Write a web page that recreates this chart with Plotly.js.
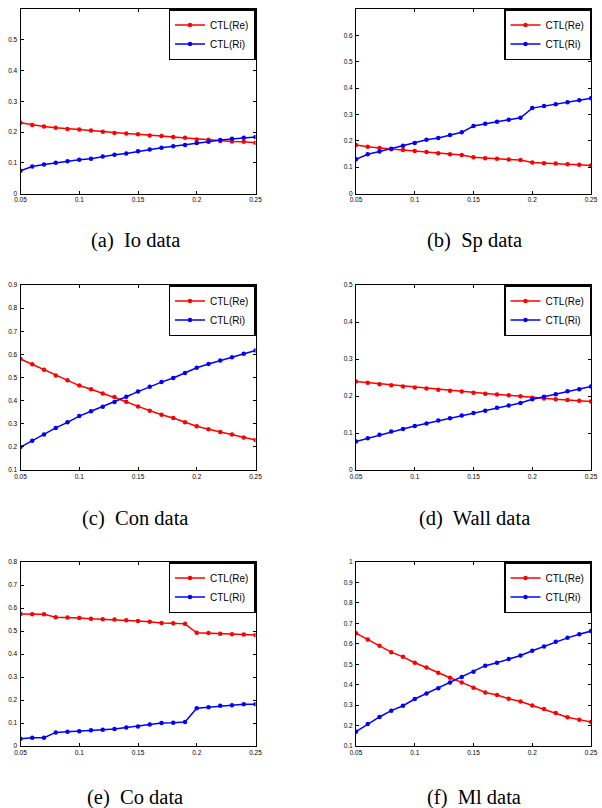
<!DOCTYPE html>
<html>
<head>
<meta charset="utf-8">
<script src="https://cdn.plot.ly/plotly-3.0.1.min.js"></script>
<style>html,body{margin:0;padding:0;background:#fff;}#chart{width:602px;height:808px;}</style>
</head>
<body>
<div id="chart"></div>
<script>
const xVals = [0.05,0.06,0.07,0.08,0.09,0.10,0.11,0.12,0.13,0.14,0.15,0.16,0.17,0.18,0.19,0.20,0.21,0.22,0.23,0.24,0.25];
const xTicks = [0.05,0.1,0.15,0.2,0.25];
const xTickText = ['0.05','0.1','0.15','0.2','0.25'];
const seriesNames = ['CTL(Re)','CTL(Ri)'];
const captions = ['(a)  Io data','(b)  Sp data','(c)  Con data','(d)  Wall data','(e)  Co data','(f)  Ml data'];

const ioRe = [0.230,0.223,0.218,0.214,0.210,0.208,0.205,0.201,0.197,0.195,0.193,0.189,0.187,0.184,0.181,0.176,0.175,0.171,0.169,0.168,0.165];
const ioRi = [0.074,0.088,0.094,0.100,0.105,0.110,0.113,0.120,0.126,0.130,0.137,0.143,0.149,0.154,0.158,0.164,0.168,0.174,0.178,0.181,0.184];
const spRe = [0.184,0.177,0.173,0.168,0.165,0.161,0.157,0.153,0.149,0.146,0.138,0.134,0.132,0.129,0.127,0.118,0.115,0.114,0.111,0.109,0.106];
const spRi = [0.130,0.149,0.159,0.170,0.181,0.192,0.204,0.211,0.222,0.232,0.256,0.265,0.272,0.280,0.287,0.324,0.332,0.339,0.346,0.354,0.361];
const conRe = [0.580,0.557,0.534,0.509,0.488,0.465,0.449,0.431,0.416,0.395,0.375,0.356,0.339,0.325,0.307,0.289,0.276,0.264,0.253,0.241,0.230];
const conRi = [0.199,0.227,0.253,0.282,0.306,0.333,0.354,0.374,0.394,0.417,0.439,0.460,0.480,0.498,0.519,0.542,0.558,0.573,0.588,0.603,0.617];
const wallRe = [0.239,0.236,0.232,0.229,0.226,0.223,0.220,0.217,0.214,0.212,0.209,0.206,0.204,0.202,0.199,0.195,0.193,0.191,0.189,0.187,0.185];
const wallRi = [0.077,0.086,0.095,0.104,0.111,0.119,0.126,0.134,0.140,0.147,0.154,0.160,0.168,0.174,0.181,0.191,0.198,0.205,0.213,0.218,0.226];
const coRe = [0.574,0.573,0.573,0.560,0.559,0.557,0.553,0.551,0.550,0.547,0.543,0.540,0.535,0.534,0.531,0.492,0.491,0.488,0.486,0.485,0.483];
const coRi = [0.032,0.036,0.036,0.059,0.062,0.064,0.068,0.071,0.074,0.080,0.085,0.093,0.100,0.101,0.104,0.164,0.169,0.175,0.177,0.181,0.182];
const mlRe = [0.652,0.621,0.590,0.559,0.536,0.507,0.484,0.458,0.434,0.411,0.385,0.362,0.349,0.331,0.318,0.298,0.281,0.261,0.241,0.229,0.217];
const mlRi = [0.170,0.207,0.242,0.273,0.297,0.330,0.357,0.383,0.411,0.437,0.463,0.493,0.507,0.525,0.543,0.566,0.587,0.610,0.629,0.647,0.662];

const yRanges = [[0,0.6],[0,0.7],[0.1,0.9],[0,0.5],[0,0.8],[0.1,1.0]];
const yTickVals = [
  [0,0.1,0.2,0.3,0.4,0.5],
  [0,0.1,0.2,0.3,0.4,0.5,0.6],
  [0.1,0.2,0.3,0.4,0.5,0.6,0.7,0.8,0.9],
  [0,0.1,0.2,0.3,0.4,0.5],
  [0,0.1,0.2,0.3,0.4,0.5,0.6,0.7,0.8],
  [0.1,0.2,0.3,0.4,0.5,0.6,0.7,0.8,0.9,1]
];
const reData = [ioRe, spRe, conRe, wallRe, coRe, mlRe];
const riData = [ioRi, spRi, conRi, wallRi, coRi, mlRi];

const W = 602, H = 808;
const colX = [[20.5,255.5],[356,591]];
const rowY = [[9,193.5],[285,470],[562,746]];
const capY = [241,518,797];
const capX = [135,474];

const traces = [];
const layout = {
  width: W, height: H,
  margin: {l:0,r:0,t:0,b:0},
  paper_bgcolor: '#fff', plot_bgcolor: '#fff',
  showlegend: true,
  annotations: [],
  font: {family: 'Liberation Sans, Arial, sans-serif', color: '#000'}
};

for (let i = 0; i < 6; i++) {
  const col = i % 2, row = Math.floor(i / 2);
  const n = i + 1;
  const xa = n === 1 ? 'x' : 'x' + n;
  const ya = n === 1 ? 'y' : 'y' + n;
  const lg = n === 1 ? 'legend' : 'legend' + n;
  const colors = ['#ff0000', '#0000ff'];
  [reData[i], riData[i]].forEach((d, k) => {
    traces.push({
      x: xVals, y: d, type: 'scatter', mode: 'lines+markers',
      name: seriesNames[k], xaxis: xa, yaxis: ya, legend: lg,
      line: {color: colors[k], width: 1.5},
      marker: {color: colors[k], size: 4.5, symbol: 'circle'}
    });
  });
  const xd = [colX[col][0] / W, colX[col][1] / W];
  const yd = [1 - rowY[row][1] / H, 1 - rowY[row][0] / H];
  const axCommon = {
    showline: true, linecolor: '#000', linewidth: 1, mirror: 'ticks',
    ticks: 'inside', ticklen: 3, tickwidth: 1, tickcolor: '#000',
    showgrid: false, zeroline: false,
    tickfont: {size: 6.5, family: 'Liberation Sans, Arial, sans-serif', color: '#000'}
  };
  layout['xaxis' + (n === 1 ? '' : n)] = Object.assign({}, axCommon, {
    domain: xd, anchor: ya, range: [0.05, 0.25],
    tickmode: 'array', tickvals: xTicks, ticktext: xTickText, ticklabelstandoff: 0
  });
  layout['yaxis' + (n === 1 ? '' : n)] = Object.assign({}, axCommon, {
    domain: yd, anchor: xa, range: yRanges[i],
    tickmode: 'array', tickvals: yTickVals[i],
    ticktext: yTickVals[i].map(v => String(v)), ticklabelstandoff: 1
  });
  layout[lg] = {
    x: xd[1], y: yd[1], xanchor: 'right', yanchor: 'top',
    xref: 'paper', yref: 'paper',
    bgcolor: '#fff', bordercolor: '#000', borderwidth: 1.5,
    font: {size: 10, family: 'Liberation Sans, Arial, sans-serif', color: '#000'},
    itemwidth: 30, tracegroupgap: 0
  };
  layout.annotations.push({
    text: captions[i], xref: 'paper', yref: 'paper',
    x: capX[col] / W, y: 1 - capY[row] / H, xanchor: 'center', yanchor: 'middle',
    showarrow: false,
    font: {size: 20.5, family: 'Liberation Serif', color: '#000'}
  });
}

Plotly.newPlot('chart', traces, layout, {staticPlot: true});
</script>
</body>
</html>
